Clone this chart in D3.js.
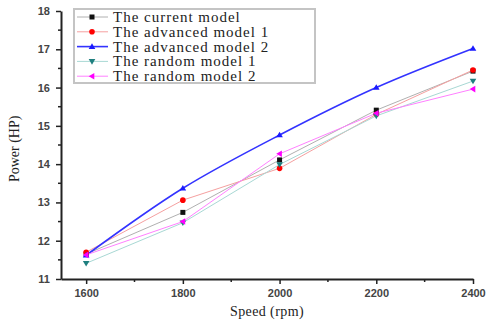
<!DOCTYPE html>
<html>
<head>
<meta charset="utf-8">
<script src="https://cdn.jsdelivr.net/npm/d3@7"></script>
<style>
  body { margin: 0; background: #fff; }
  svg { display: block; }
</style>
</head>
<body>
<div id="chart"></div>
<script>
const speeds = [1600, 1800, 2000, 2200, 2400];
const currentModel = [11.65, 12.74, 14.11, 15.41, 16.43];
const advancedModel1 = [11.70, 13.06, 13.89, 15.30, 16.46];
const advancedModel2 = [11.62, 13.37, 14.76, 16.00, 17.02];
const randomModel1 = [11.41, 12.47, 13.99, 15.26, 16.17];
const randomModel2 = [11.63, 12.50, 14.27, 15.33, 15.96];
const xTicks = [1600, 1800, 2000, 2200, 2400];
const yTicks = [11, 12, 13, 14, 15, 16, 17, 18];

const series = [
  { name: "The current model", values: currentModel, line: "#b0b0b0", mark: "#111", shape: "square", width: 1 },
  { name: "The advanced model 1", values: advancedModel1, line: "#f5a0a0", mark: "#ff0000", shape: "circle", width: 1 },
  { name: "The advanced model 2", values: advancedModel2, line: "#3333ff", mark: "#1a1aff", shape: "up", width: 1.6 },
  { name: "The random model 1", values: randomModel1, line: "#a8d8d4", mark: "#1f7f7f", shape: "down", width: 1 },
  { name: "The random model 2", values: randomModel2, line: "#ff80ff", mark: "#ff00ff", shape: "left", width: 1 }
];

const W = 489, H = 322;
const svg = d3.select("#chart").append("svg").attr("width", W).attr("height", H);

const x = d3.scaleLinear().domain([1548, 2400]).range([61, 473]);
const y = d3.scaleLinear().domain([11, 18]).range([279, 11]);

function marker(g, shape) {
  if (shape === "square") return g.append("rect").attr("x", -2.5).attr("y", -2.5).attr("width", 5).attr("height", 5);
  if (shape === "circle") return g.append("circle").attr("r", 2.8);
  const pts = {
    up: [[0, -3.3], [3.3, 2.3], [-3.3, 2.3]],
    down: [[0, 3.3], [3.3, -2.3], [-3.3, -2.3]],
    left: [[-3.3, 0], [2.3, -3.3], [2.3, 3.3]]
  }[shape];
  return g.append("path").attr("d", "M" + pts.map(p => p.join(",")).join("L") + "Z");
}

// axes
const xMinor = d3.range(1700, 2400, 200);
const yMinor = d3.range(11.5, 18, 1);

const xAxis = g => g
  .attr("transform", `translate(0,${y(11)})`)
  .call(d3.axisBottom(x).tickValues(xTicks).tickFormat(d3.format("d")).tickSizeInner(5).tickSizeOuter(0).tickPadding(5))
  .call(g => g.select(".domain").attr("stroke", "#222").attr("stroke-width", 2))
  .call(g => g.selectAll(".tick line").attr("stroke", "#222").attr("stroke-width", 1.5))
  .call(g => g.selectAll("text").attr("fill", "#444").style("font", "bold 11px 'Liberation Sans', Arial, sans-serif"));

const yAxis = g => g
  .attr("transform", `translate(${x(1548)},0)`)
  .call(d3.axisLeft(y).tickValues(yTicks).tickFormat(d3.format("d")).tickSizeInner(5).tickSizeOuter(0).tickPadding(6))
  .call(g => g.select(".domain").attr("stroke", "#222").attr("stroke-width", 2))
  .call(g => g.selectAll(".tick line").attr("stroke", "#222").attr("stroke-width", 1.5))
  .call(g => g.selectAll("text").attr("fill", "#444").style("font", "bold 11px 'Liberation Sans', Arial, sans-serif"));

svg.append("g").call(xAxis);
svg.append("g").call(yAxis);

// minor ticks
svg.append("g").selectAll("line").data(xMinor).join("line")
  .attr("x1", d => x(d)).attr("x2", d => x(d))
  .attr("y1", y(11)).attr("y2", y(11) + 3)
  .attr("stroke", "#222").attr("stroke-width", 1.5);
svg.append("g").selectAll("line").data(yMinor).join("line")
  .attr("x1", x(1548) - 3).attr("x2", x(1548))
  .attr("y1", d => y(d)).attr("y2", d => y(d))
  .attr("stroke", "#222").attr("stroke-width", 1.5);

// lines
series.forEach(s => {
  const pts = speeds.map((sp, i) => [sp, s.values[i]]);
  const line = d3.line()
    .x(d => x(d[0])).y(d => y(d[1]))
    .curve(s.shape === "up" ? d3.curveCatmullRom : d3.curveLinear);
  svg.append("path").datum(pts)
    .attr("fill", "none")
    .attr("stroke", s.line)
    .attr("stroke-width", s.width)
    .attr("d", line);
});
series.forEach(s => {
  speeds.forEach((sp, i) => {
    const g = svg.append("g").attr("transform", `translate(${x(sp)},${y(s.values[i])})`).attr("fill", s.mark);
    marker(g, s.shape);
  });
});

// legend
const lg = svg.append("g").attr("transform", "translate(74,9)");
lg.append("rect").attr("width", 241).attr("height", 74)
  .attr("fill", "#fff").attr("stroke", "#c4c4c4").attr("stroke-width", 2);
series.forEach((s, i) => {
  const row = lg.append("g").attr("transform", `translate(0,${8 + i * 14.8})`);
  row.append("line").attr("x1", 3).attr("x2", 34).attr("stroke", s.line).attr("stroke-width", s.width);
  marker(row.append("g").attr("transform", "translate(18,0)").attr("fill", s.mark), s.shape);
  row.append("text").attr("x", 39).attr("y", 5)
    .attr("fill", "#222")
    .style("font", "15px 'Liberation Serif', 'Times New Roman', serif")
    .style("letter-spacing", "1px")
    .text(s.name);
});

// axis titles
svg.append("text")
  .attr("transform", `translate(19,${y(14.4)}) rotate(-90)`)
  .attr("text-anchor", "middle")
  .attr("fill", "#222")
  .style("font", "14px 'Liberation Serif', serif")
  .text("Power (HP)");
svg.append("text")
  .attr("x", 267).attr("y", 316)
  .attr("text-anchor", "middle")
  .attr("fill", "#222")
  .style("font", "14px 'Liberation Serif', serif")
  .style("letter-spacing", "0.4px")
  .text("Speed (rpm)");
</script>
</body>
</html>
